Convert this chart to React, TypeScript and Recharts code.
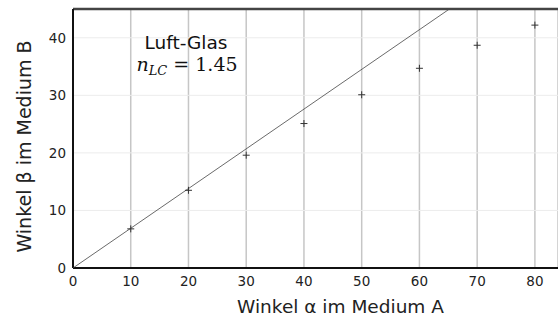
import React from "react";
import {
  ScatterChart,
  Scatter,
  XAxis,
  YAxis,
  CartesianGrid,
  ReferenceLine,
  Label,
} from "recharts";

const alphaValues = [10, 20, 30, 40, 50, 60, 70, 80];
const betaValues = [6.8, 13.5, 19.6, 25.1, 30.1, 34.7, 38.7, 42.2];
const fitLineX = [0, 65.2];
const fitLineY = [0, 45];
const xTicks = [0, 10, 20, 30, 40, 50, 60, 70, 80];
const yTicks = [0, 10, 20, 30, 40];

const measured = alphaValues.map((a, i) => ({ x: a, y: betaValues[i] }));
const fitLine = fitLineX.map((x, i) => ({ x, y: fitLineY[i] }));

const FONT = "DejaVu Sans";

const PlusMark = (props: any) => {
  const { cx, cy } = props;
  if (cx == null || cy == null) return null;
  const s = 3.5;
  return (
    <g stroke="#333" strokeWidth={1}>
      <line x1={cx - s} y1={cy} x2={cx + s} y2={cy} />
      <line x1={cx} y1={cy - s} x2={cx} y2={cy + s} />
    </g>
  );
};

const NoMark = () => null;

const App: React.FC = () => {
  return (
    <div style={{ position: "absolute", left: 0, top: 0, background: "#fff" }}>
      <ScatterChart
        width={558}
        height={320}
        margin={{ top: 9, right: 0, bottom: 0, left: 0 }}
      >
        <CartesianGrid horizontal={false} stroke="#c6c6c6" strokeWidth={1.5} />
        <CartesianGrid vertical={false} stroke="#ececec" strokeWidth={1} />
        <XAxis
          type="number"
          dataKey="x"
          domain={[0, 84]}
          ticks={xTicks}
          height={52}
          tickLine={false}
          tickSize={0}
          tickMargin={8}
          axisLine={{ stroke: "#111", strokeWidth: 2 }}
          tick={{ fill: "#222", fontSize: 13.5, fontFamily: FONT }}
          allowDataOverflow
        >
          <Label
            value="Winkel α im Medium A"
            position="insideBottom"
            offset={7}
            dx={25}
            style={{ fill: "#222", fontSize: 18.5, fontFamily: FONT }}
          />
        </XAxis>
        <YAxis
          type="number"
          dataKey="y"
          domain={[0, 45]}
          ticks={yTicks}
          width={73}
          tickLine={false}
          tickSize={0}
          tickMargin={7}
          axisLine={{ stroke: "#111", strokeWidth: 2 }}
          tick={{ fill: "#222", fontSize: 13.5, fontFamily: FONT }}
          allowDataOverflow
        >
          <Label
            value="Winkel β im Medium B"
            angle={-90}
            position="insideLeft"
            offset={24}
            dy={8}
            style={{
              fill: "#222",
              fontSize: 19,
              fontFamily: FONT,
              textAnchor: "middle",
            }}
          />
        </YAxis>
        <ReferenceLine y={45} stroke="#444" strokeWidth={2.5} />
        <Scatter
          data={fitLine}
          line={{ stroke: "#444", strokeWidth: 0.8 }}
          shape={NoMark}
          isAnimationActive={false}
        />
        <Scatter data={measured} shape={PlusMark} isAnimationActive={false} />
        <text
          x={186}
          y={49}
          textAnchor="middle"
          fontFamily={FONT}
          fontSize={18.5}
          fill="#111"
        >
          Luft-Glas
        </text>
        <text
          x={187}
          y={71}
          textAnchor="middle"
          fontFamily="DejaVu Serif"
          fontSize={19}
          fill="#111"
        >
          <tspan fontStyle="italic">n</tspan>
          <tspan fontStyle="italic" fontSize={13} dy={4}>
            LC
          </tspan>
          <tspan dy={-4}> = 1.45</tspan>
        </text>
      </ScatterChart>
    </div>
  );
};

export default App;
